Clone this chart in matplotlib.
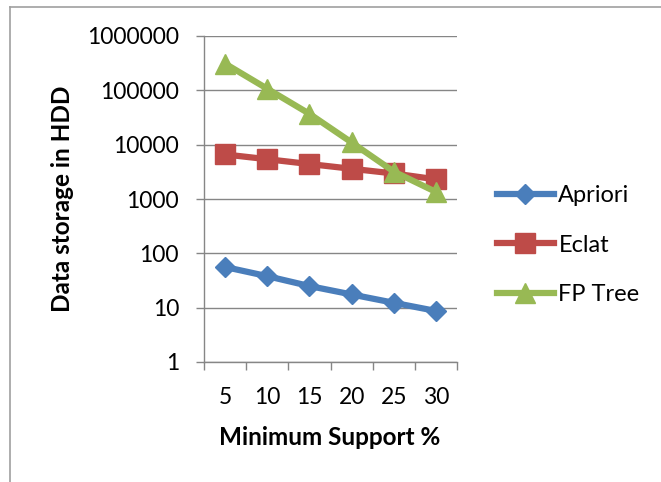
import matplotlib
matplotlib.use('Agg')
import matplotlib.pyplot as plt
from matplotlib.lines import Line2D

plt.rcParams['font.family'] = ['Lato', 'DejaVu Sans']

support = ['5', '10', '15', '20', '25', '30']
apriori = [56, 38, 25, 17.5, 12.3, 8.7]
eclat = [6600, 5400, 4400, 3600, 2950, 2300]
fptree = [310000, 107000, 37000, 11000, 3200, 1350]

fig = plt.figure(figsize=(6.61, 4.82), dpi=100)
ax = fig.add_axes([204/661, 1-362/482, 253/661, 326/482])

x = range(len(support))
ax.plot(x, apriori, color='#4a7ebb', lw=4.5, marker='D', ms=10, label='Apriori')
ax.plot(x, eclat, color='#be4b48', lw=4.5, marker='s', ms=14, label='Eclat')
ax.plot(x, fptree, color='#98b954', lw=4.5, marker='^', ms=15, label='FP Tree')

ax.set_yscale('log')
ax.set_ylim(1, 1000000)
ax.set_yticks([1, 10, 100, 1000, 10000, 100000, 1000000])
ax.set_yticklabels(['1', '10', '100', '1000', '10000', '100000', '1000000'])
ax.yaxis.set_minor_locator(matplotlib.ticker.NullLocator())
ax.set_xlim(-0.5, len(support) - 0.5)
ax.set_xticks(list(x))
ax.set_xticklabels(support)
ax.set_xticks([i - 0.5 for i in range(len(support) + 1)], minor=True)

ax.tick_params(axis='y', length=6, width=1, color='#868686', pad=12, labelsize=16.5)
ax.tick_params(axis='x', which='major', length=0, pad=18, labelsize=16.5)
ax.tick_params(axis='x', which='minor', length=6, width=1, color='#868686')

ax.grid(axis='y', color='#868686', lw=1)
ax.set_axisbelow(True)
for s in ['top', 'right']:
    ax.spines[s].set_visible(False)
for s in ['left', 'bottom']:
    ax.spines[s].set_color('#868686')
    ax.spines[s].set_linewidth(1)

ax.set_xlabel('Minimum Support %', fontsize=17.5, fontweight='bold')
ax.set_ylabel('Data storage in HDD', fontsize=17.5, fontweight='bold')
ax.xaxis.set_label_coords(0.498, -0.233)
ax.yaxis.set_label_coords(-0.561, 0.5)
ax.xaxis.label.set_va('center')
ax.yaxis.label.set_va('center')

fig.legend(loc='center left', bbox_to_anchor=(497/661, 1-245/482), frameon=False,
           fontsize=17, handlelength=2.4, handletextpad=0.2, labelspacing=1.2,
           borderpad=0, borderaxespad=0)

# outer chart border
fig.add_artist(Line2D([10/661, 1], [1-6.5/482, 1-6.5/482], transform=fig.transFigure,
                      color='#a0a0a0', lw=1.2))
fig.add_artist(Line2D([10/661, 10/661], [0, 1-6.5/482], transform=fig.transFigure,
                      color='#a0a0a0', lw=1.2))

fig.savefig('out.png', dpi=100)
